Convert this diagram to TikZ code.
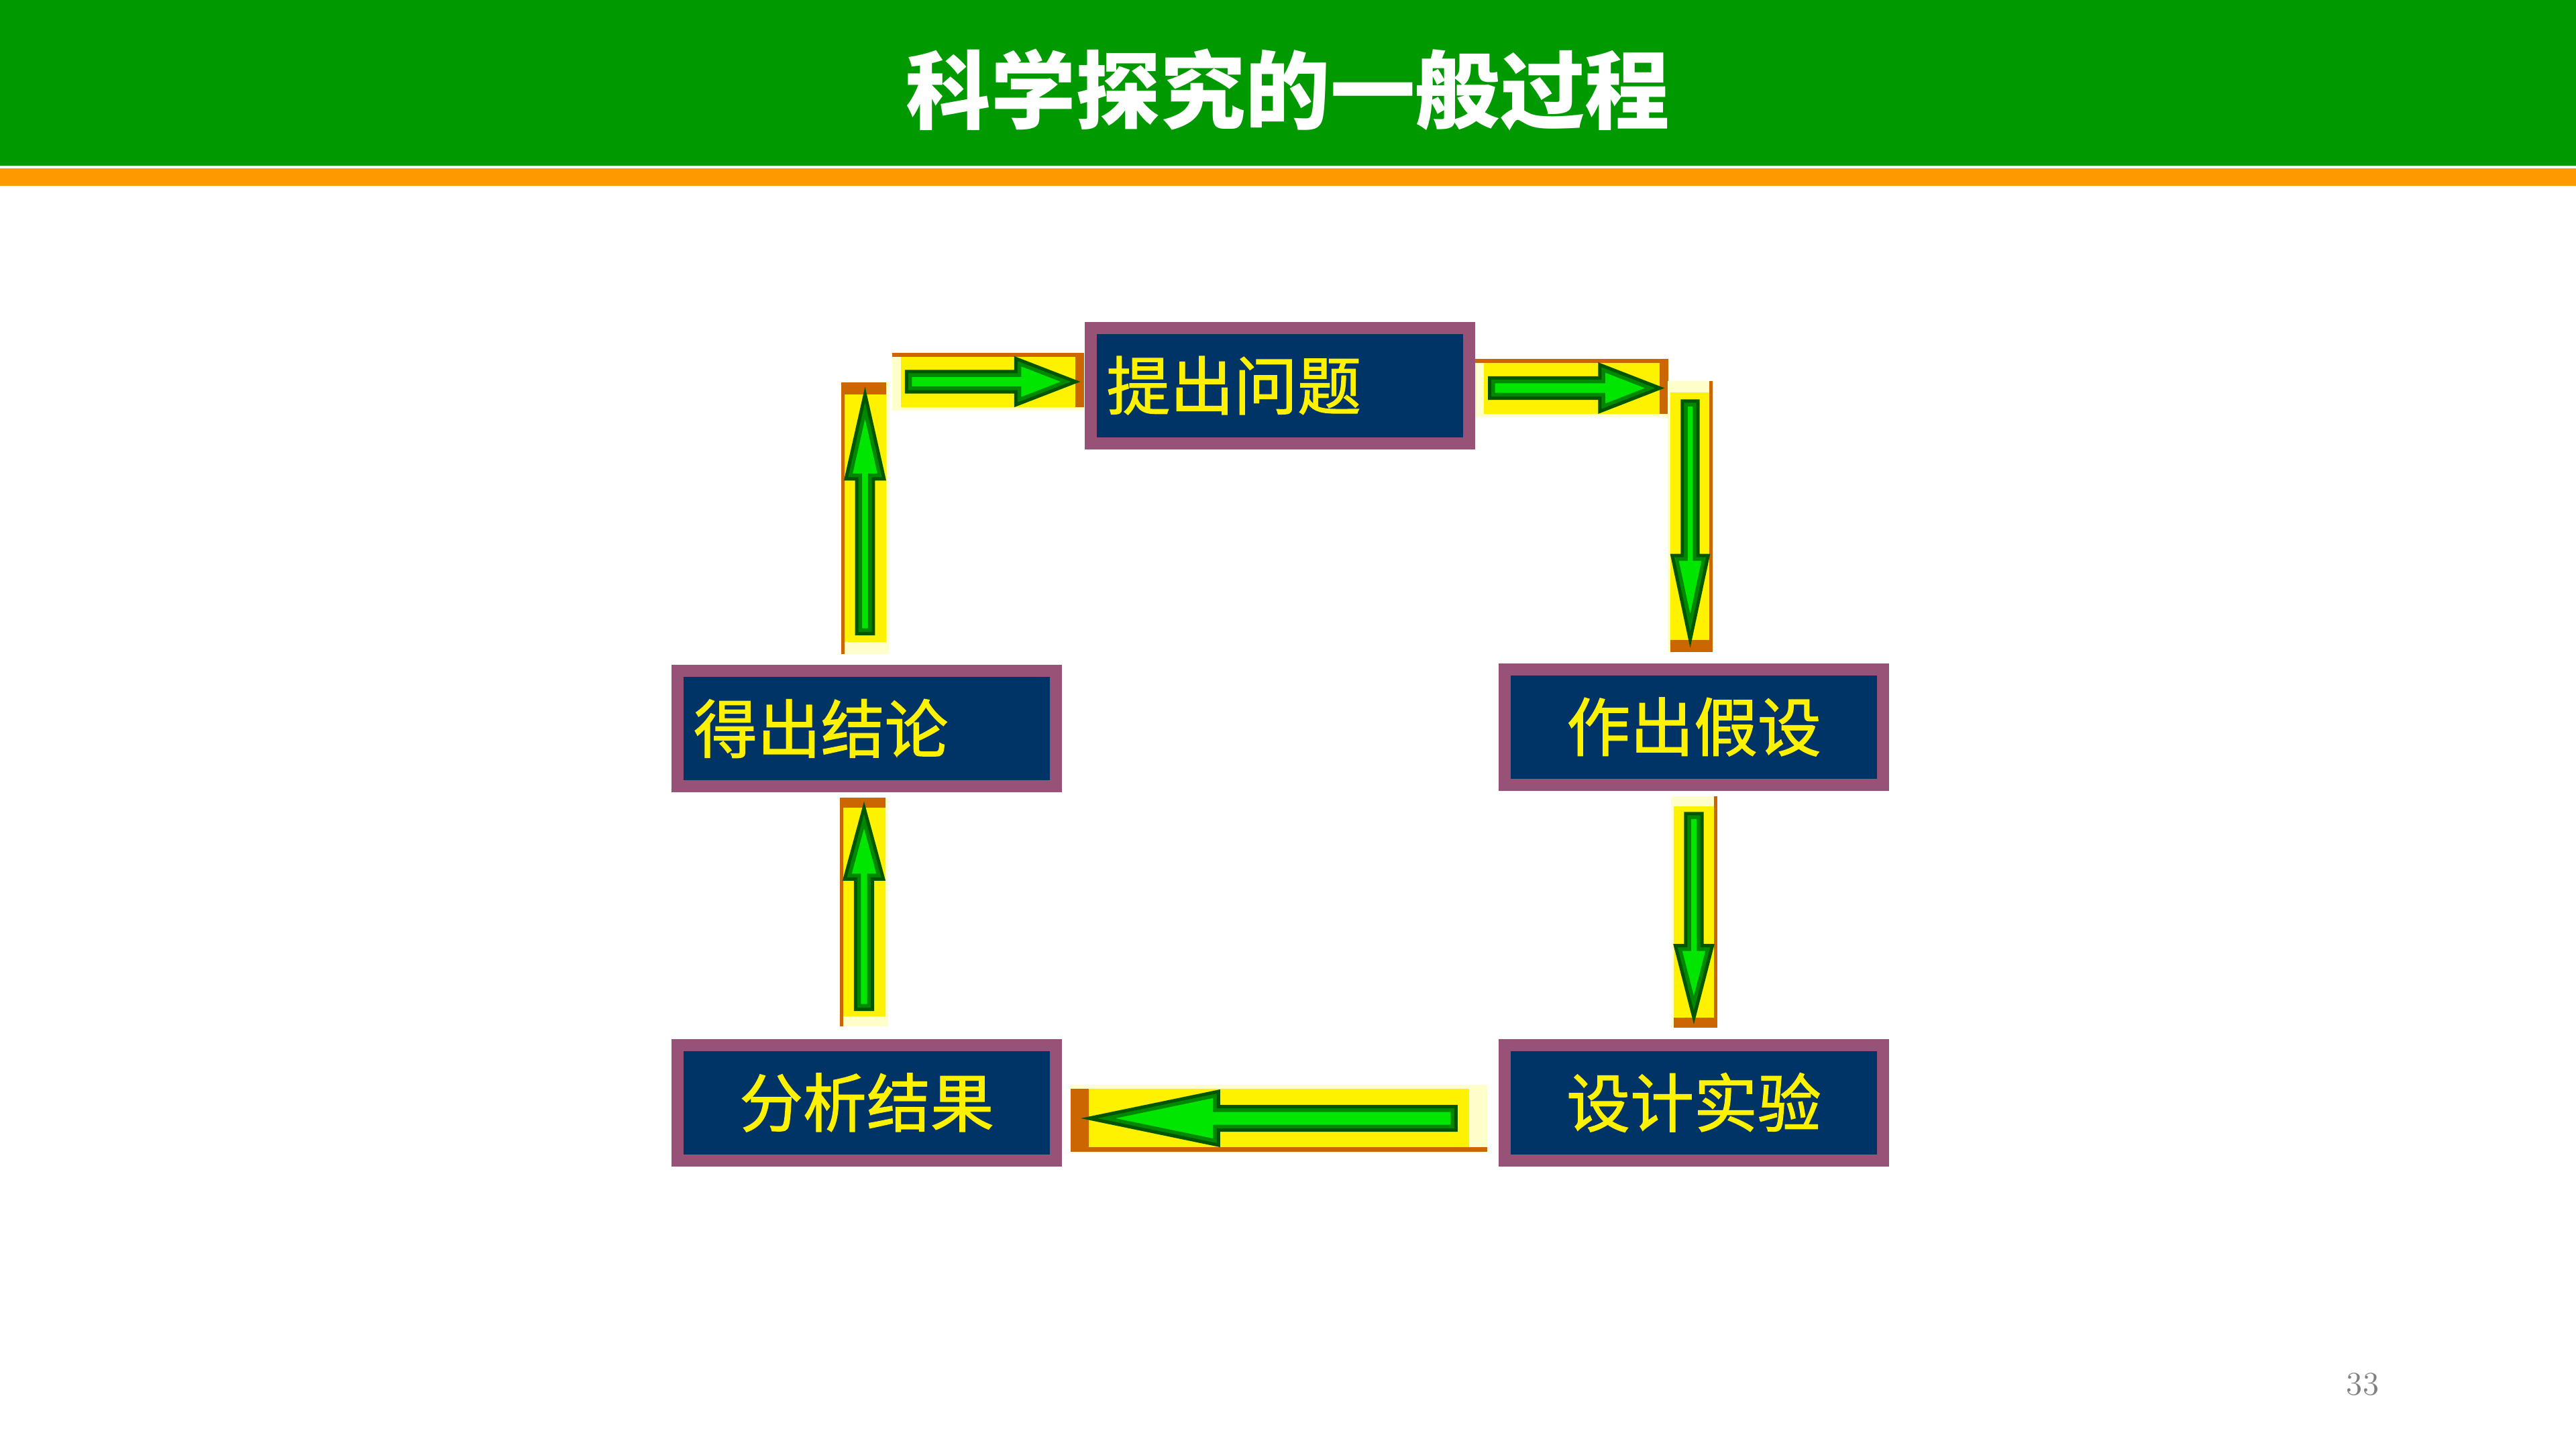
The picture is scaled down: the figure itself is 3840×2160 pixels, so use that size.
\documentclass[tikz,border=0pt]{standalone}
\usepackage{fontspec}
\newfontfamily\cjk{Noto Sans CJK SC}
\newfontfamily\cjkbox[FakeBold=1.3]{Noto Sans CJK SC}
\usetikzlibrary{calc}

\definecolor{bargreen}{RGB}{0,153,0}
\definecolor{barorange}{RGB}{255,153,0}
\definecolor{boxnavy}{RGB}{0,51,102}
\definecolor{boxpurple}{RGB}{153,82,119}
\definecolor{edgeorange}{RGB}{204,102,0}
\definecolor{edgepale}{RGB}{255,255,204}
\definecolor{tipgreen}{RGB}{0,230,0}
\definecolor{midgreen}{RGB}{0,136,0}
\definecolor{darkgreen}{RGB}{0,85,0}

\tikzset{
  procbox/.style={rectangle, draw=boxpurple, fill=boxnavy, line width=1.8mm,
    minimum width=56.4mm, minimum height=17.2mm, inner xsep=2.4mm, inner ysep=0pt,
    text width=51.6mm, align=center, text=yellow,
    font=\cjkbox\fontsize{27pt}{30pt}\selectfont},
  leftbox/.style={procbox, align=left},
  % yellow tile with a green block arrow, #1 = length, #2 = width, pointing along +x
  pics/flowarrow/.style 2 args={code={
    \fill[edgepale] (-#1/2,-#2/2) rectangle (#1/2,#2/2);
    \fill[edgeorange] (-#1/2,#2/2-0.07*#2) rectangle (#1/2,#2/2);
    \fill[edgeorange] (#1/2-0.044*#1,-#2/2+0.06*#2) rectangle (#1/2,#2/2);
    \fill[yellow] (-#1/2+0.044*#1,-#2/2+0.06*#2) rectangle (#1/2-0.044*#1,#2/2-0.07*#2);
    \begin{scope}
      \clip (-0.425*#1,-0.175*#2) -- (0.145*#1,-0.175*#2) -- (0.145*#1,-0.4*#2) -- (0.456*#1,0)
        -- (0.145*#1,0.4*#2) -- (0.145*#1,0.175*#2) -- (-0.425*#1,0.175*#2) -- cycle;
      \filldraw[fill=tipgreen, draw=midgreen, line width=1.6mm]
        (-0.425*#1,-0.175*#2) -- (0.145*#1,-0.175*#2) -- (0.145*#1,-0.4*#2) -- (0.456*#1,0)
        -- (0.145*#1,0.4*#2) -- (0.145*#1,0.175*#2) -- (-0.425*#1,0.175*#2) -- cycle;
    \end{scope}
    \draw[darkgreen, line width=0.5mm]
      (-0.425*#1,-0.175*#2) -- (0.145*#1,-0.175*#2) -- (0.145*#1,-0.4*#2) -- (0.456*#1,0)
      -- (0.145*#1,0.4*#2) -- (0.145*#1,0.175*#2) -- (-0.425*#1,0.175*#2) -- cycle;
  }}
}

\begin{document}
\begin{tikzpicture}[x=0.1mm, y=0.1mm]
	\useasboundingbox (0,0) rectangle (3840,-2160);
	\fill[white] (0,0) rectangle (3840,-2160);
	% title bar
	\fill[bargreen] (0,0) rectangle (3840,-247);
	\fill[barorange] (0,-251) rectangle (3840,-277);
	\node[text=white, font=\cjk\bfseries\fontsize{36pt}{40pt}\selectfont] (title) at (1920,-134) {科学探究的一般过程};
	% steps
	\node[leftbox] (question) at (1907.5,-574.5) {提出问题};
	\node[procbox] (hypothesis) at (2525,-1083.5) {作出假设};
	\node[procbox] (experiment) at (2525,-1643.5) {设计实验};
	\node[procbox] (analysis) at (1292,-1643.5) {分析结果};
	\node[leftbox] (conclusion) at (1292,-1086) {得出结论};
	% arrows round the cycle
	\pic at ($(question.east)+(144.5,-4)$) {flowarrow={288}{87}};
	\pic[rotate=-90] at ($(hypothesis.north)+(-5.5,219)$) {flowarrow={404}{67}};
	\pic[rotate=-90] at ($(hypothesis.south)!.5!(experiment.north)+(0,4)$) {flowarrow={345}{69}};
	\pic[rotate=180] at ($(experiment.west)!.5!(analysis.east)+(-2,-23.5)$) {flowarrow={621}{100}};
	\pic[rotate=90] at ($(analysis.north)!.5!(conclusion.south)+(-4,5)$) {flowarrow={341}{72}};
	\pic[rotate=90] at ($(conclusion.north)+(-2.5,218.5)$) {flowarrow={405}{71}};
	\pic at ($(question.west)+(-143.5,5.5)$) {flowarrow={286}{86}};
	\node[text=gray, font=\fontsize{14pt}{16pt}\selectfont] (pageno) at (3522,-2064) {33};
\end{tikzpicture}
\end{document}
